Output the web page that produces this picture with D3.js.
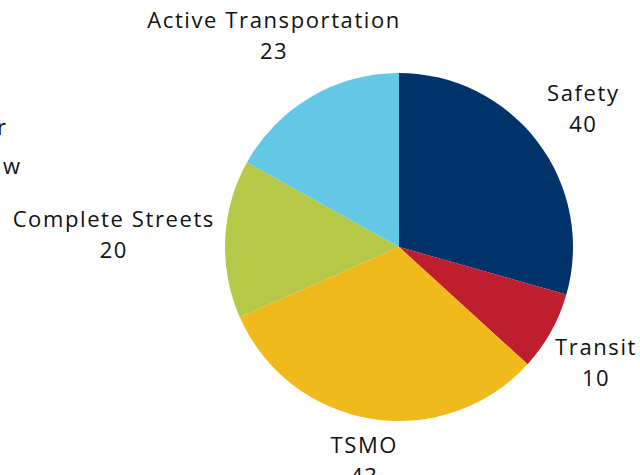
<!DOCTYPE html>
<html>
<head>
<meta charset="utf-8">
<script src="https://cdn.jsdelivr.net/npm/d3@7"></script>
<style>
  body { margin: 0; background: #fff; }
  text { font-family: "Open Sans", sans-serif; fill: #111; letter-spacing: 1.6px; }
</style>
</head>
<body>
<svg width="640" height="475"></svg>
<script>
// chart data
var categories = ["Safety", "Transit", "TSMO", "Complete Streets", "Active Transportation"];
var values = [40, 10, 43, 20, 23];
var colors = ["#003369", "#BE1E2D", "#F0BA1D", "#B5C847", "#63C8E6"];

var svg = d3.select("svg"),
    width = +svg.attr("width"),
    height = +svg.attr("height");

var cx = 399, cy = 247, radius = 174;
var fontSize = "22px";

var data = categories.map(function(c, i) { return { label: c, amount: values[i], color: colors[i] }; });

// cut-off title text at the left edge
svg.append("text").attr("x", 6).attr("y", 135).attr("text-anchor", "end")
   .style("font-size", fontSize).style("letter-spacing", "0px").text("r");
svg.append("text").attr("x", 20).attr("y", 174).attr("text-anchor", "end")
   .style("font-size", fontSize).style("letter-spacing", "0px").text("w");

var g = svg.append("g").attr("transform", "translate(" + cx + "," + cy + ")");

var pie = d3.pie().sort(null).value(function(d) { return d.amount; });
var arc = d3.arc().outerRadius(radius).innerRadius(0);

var slices = g.selectAll(".arc").data(pie(data)).enter().append("g").attr("class", "arc");
slices.append("path").attr("d", arc).attr("fill", function(d) { return d.data.color; });

// labels: push each two-line box outward until it clears the pie
var gap = 8, lineH = 31;
slices.each(function(d) {
  var lab = g.append("text").attr("text-anchor", "middle").style("font-size", fontSize);
  lab.append("tspan").attr("x", 0).attr("dy", 0).text(d.data.label);
  lab.append("tspan").attr("x", 0).attr("dy", lineH).text(d.data.amount);
  var bb = lab.node().getBBox();
  var a = (d.startAngle + d.endAngle) / 2;
  var sx = Math.sin(a), sy = -Math.cos(a);
  var hw = bb.width / 2 + 2, hh = bb.height / 2;
  var t = 0;
  for (; t < 400; t += 0.5) {
    var bx = t * sx, by = t * sy;
    var px = Math.max(bx - hw, Math.min(0, bx + hw));
    var py = Math.max(by - hh, Math.min(0, by + hh));
    if (Math.sqrt(px * px + py * py) >= radius + gap) break;
  }
  var ox = t * sx, oy = t * sy;
  // keep the box inside the chart on the right
  var maxX = width - 3 - cx - bb.width / 2;
  if (ox > maxX) ox = maxX;
  // shift so the text block is centred on (ox, oy)
  lab.attr("transform", "translate(" + (ox - bb.x - bb.width / 2) + "," + (oy - (bb.y + bb.height / 2)) + ")");
});
</script>
</body>
</html>
